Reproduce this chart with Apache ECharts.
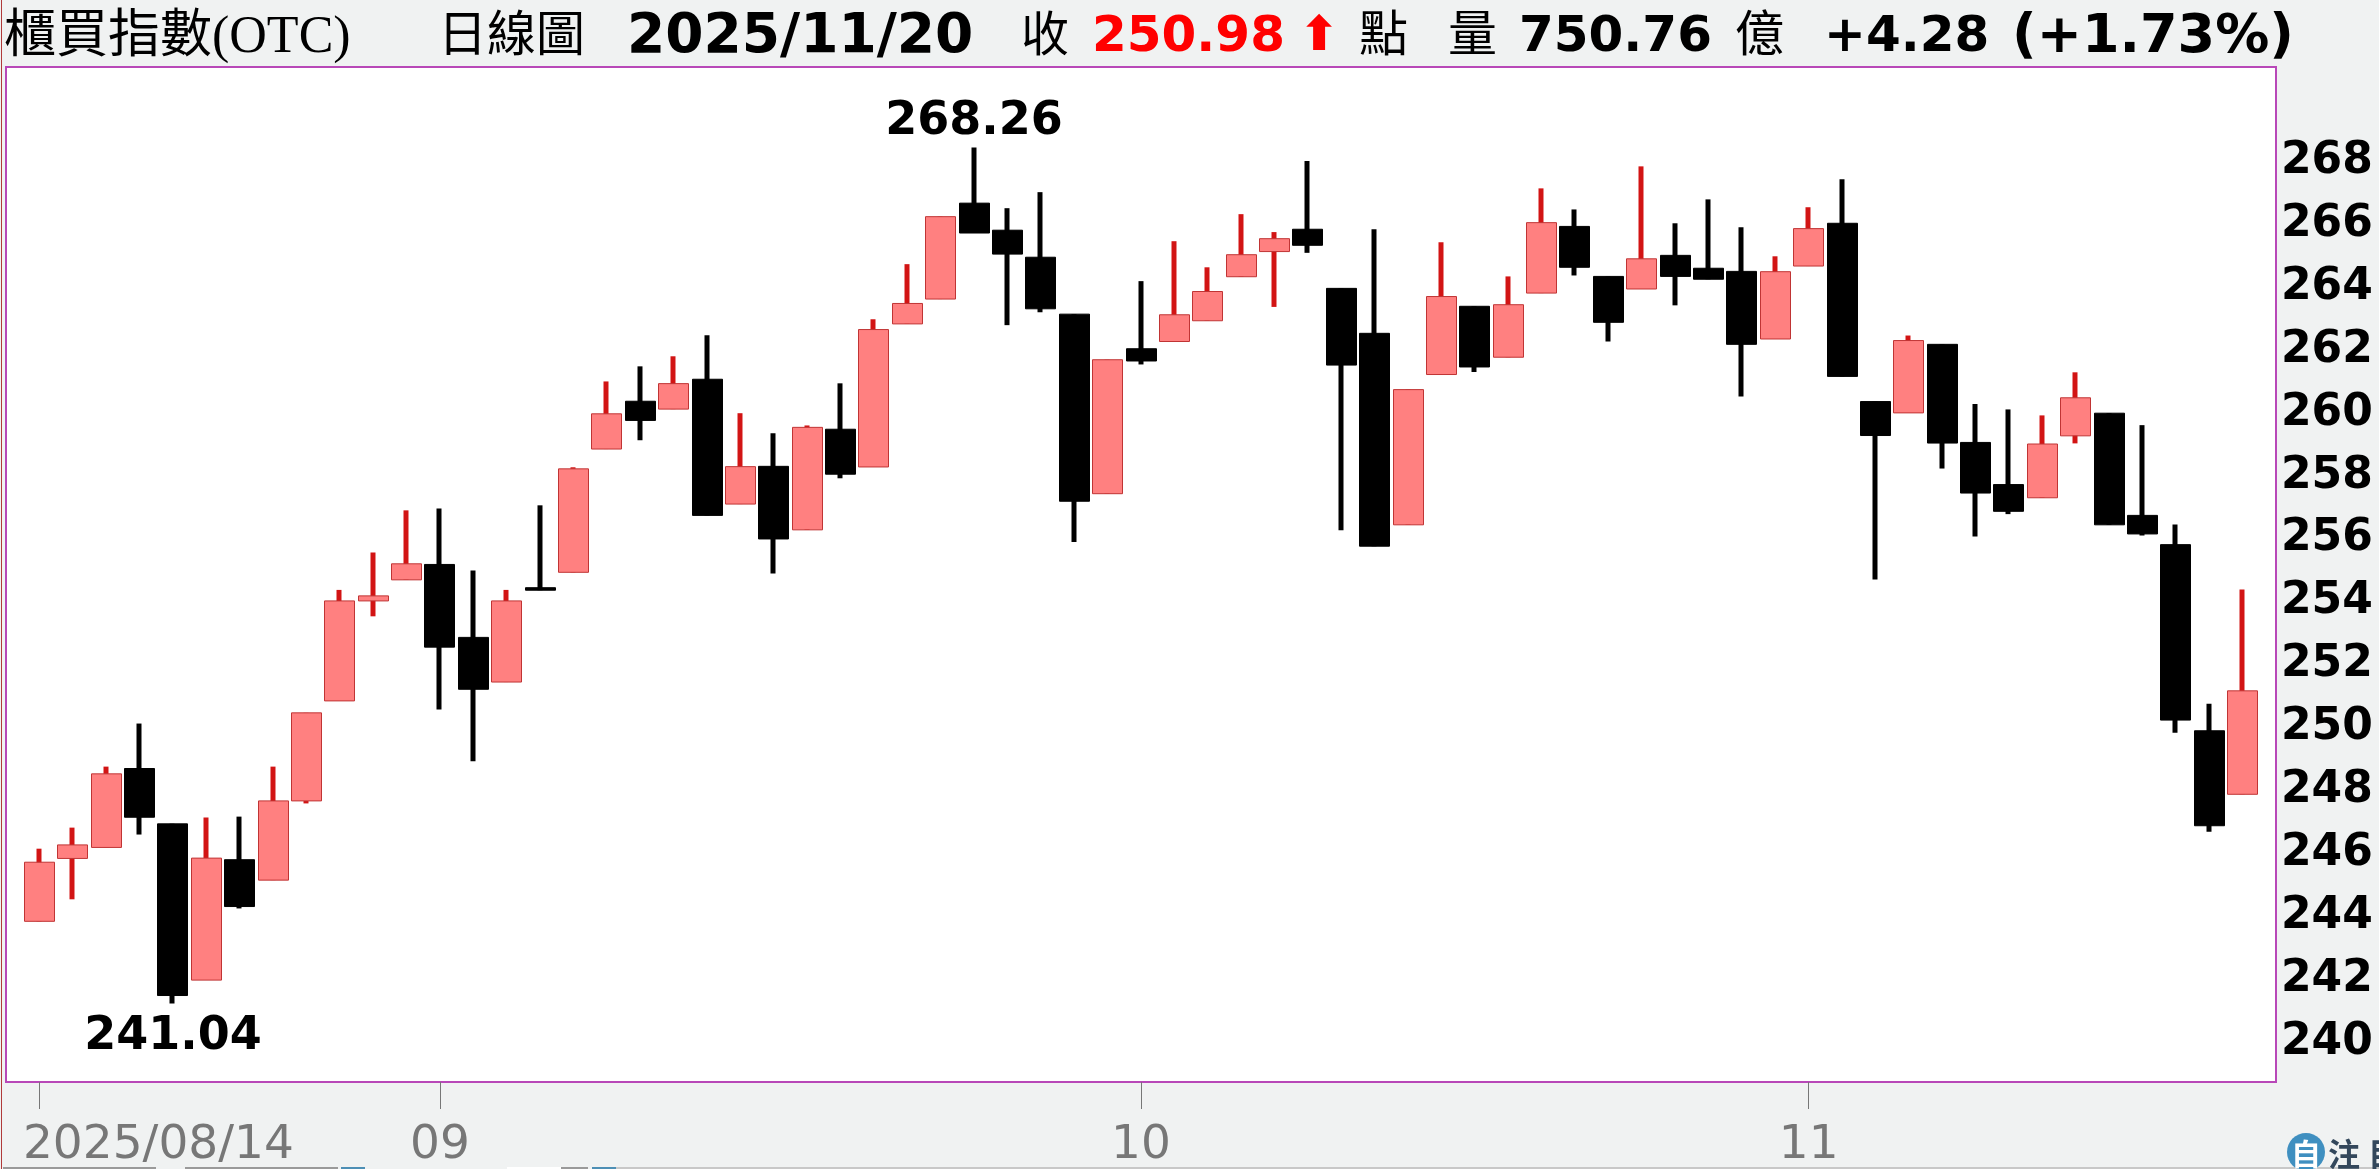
<!DOCTYPE html>
<html>
<head>
<meta charset="utf-8">
<title>櫃買指數(OTC) 日線圖</title>
<script src="https://cdn.jsdelivr.net/npm/echarts@6/dist/echarts.min.js"></script>
<style>
  html, body { margin: 0; padding: 0; background: #f0f2f2; overflow: hidden; }
  #chart { width: 2379px; height: 1169px; }
</style>
</head>
<body>
<div id="chart"></div>
<script>
// trading days, blank slots keep the half-empty margins on both sides
const dates = ['',
  '2025/08/14','2025/08/15','2025/08/18','2025/08/19','2025/08/20','2025/08/21','2025/08/22',
  '2025/08/25','2025/08/26','2025/08/27','2025/08/28','2025/08/29',
  '2025/09/01','2025/09/02','2025/09/03','2025/09/04','2025/09/05',
  '2025/09/08','2025/09/09','2025/09/10','2025/09/11','2025/09/12',
  '2025/09/15','2025/09/16','2025/09/17','2025/09/18','2025/09/19',
  '2025/09/22','2025/09/23','2025/09/24','2025/09/25','2025/09/26','2025/09/30',
  '2025/10/01','2025/10/02','2025/10/03','2025/10/07','2025/10/08','2025/10/09',
  '2025/10/13','2025/10/14','2025/10/15','2025/10/16','2025/10/17',
  '2025/10/20','2025/10/21','2025/10/22','2025/10/23',
  '2025/10/27','2025/10/28','2025/10/29','2025/10/30','2025/10/31',
  '2025/11/03','2025/11/04','2025/11/05','2025/11/06','2025/11/07',
  '2025/11/10','2025/11/11','2025/11/12','2025/11/13','2025/11/14',
  '2025/11/17','2025/11/18','2025/11/19','2025/11/20',
  '']

const opens = [243.65,245.65,246.00,248.51,246.75,241.78,245.61,244.96,247.48,250.66,253.84,254.51,
  255.00,252.68,251.26,254.26,254.75,258.67,260.19,259.94,260.89,256.92,258.12,256.10,259.30,258.10,262.65,263.44,266.49,265.63,264.77,262.96,257.25,
  261.86,262.09,262.75,264.15,264.95,265.66,263.78,262.35,256.26,261.04,263.21,261.59,263.63,265.75,264.16,263.76,264.83,264.42,264.32,262.17,264.49,265.85,
  260.18,259.82,262.00,258.88,257.54,257.12,259.09,259.81,256.56,255.63,249.71,247.69]
const closes = [245.53,246.08,248.34,246.96,241.29,245.66,244.12,247.48,250.28,253.84,254.00,255.02,
  252.37,251.03,253.84,254.18,258.04,259.79,259.58,260.75,256.56,258.11,255.81,259.36,257.87,262.47,263.30,266.06,265.54,264.87,263.13,257.01,261.51,
  261.47,262.94,263.68,264.85,265.36,265.15,261.34,255.58,260.56,263.52,261.28,263.26,265.87,264.45,262.70,264.72,264.16,264.07,262.00,264.31,265.68,260.98,
  259.10,262.12,258.86,257.27,256.69,258.83,260.30,256.26,255.97,250.05,246.69,250.98]
const highs = [245.96,246.63,248.57,249.94,246.75,246.95,246.98,248.57,250.28,254.19,255.38,256.72,
  256.78,254.81,254.19,256.88,258.09,260.82,261.30,261.62,262.29,259.81,259.17,259.42,260.76,262.80,264.55,266.06,268.26,266.33,266.84,262.96,261.51,
  264.01,265.28,264.45,266.14,265.57,267.83,263.78,265.66,260.56,265.25,263.21,264.16,266.96,266.29,264.16,267.66,265.85,266.61,265.72,264.80,266.36,267.25,
  260.18,262.28,262.00,260.10,259.93,259.74,261.11,259.81,259.43,256.27,250.57,254.20]
const lows = [243.65,244.35,246.00,246.41,241.04,241.78,244.06,244.96,247.40,250.66,253.35,254.51,
  250.39,248.74,251.26,254.18,254.75,258.67,258.95,259.94,256.56,256.92,254.71,256.10,257.74,258.10,262.65,263.44,265.54,262.61,263.02,255.71,257.25,
  261.36,262.09,262.75,264.15,263.19,264.91,256.09,255.58,256.26,261.04,261.12,261.59,263.63,264.19,262.09,263.76,263.24,264.07,260.34,262.17,264.49,260.98,
  254.52,259.82,258.05,255.89,256.60,257.12,258.85,256.26,255.92,249.65,246.50,247.69]

const priceTicks = [240,242,244,246,248,250,252,254,256,258,260,262,264,266,268]
const tickDates = ['2025/08/14','2025/09/01','2025/10/01','2025/11/03']
const tickLabels = ['2025/08/14','09','10','11']

const SANS = '"DejaVu Sans", sans-serif'
const CJK = '"Liberation Serif", "Noto Sans CJK TC", serif'

const headerText = (text, x, font, size, color, weight) => ({
  type: 'text',
  x,
  y: 38,
  silent: true,
  style: {
    text,
    fill: color || '#000',
    font: `${weight || 'normal'} ${size}px ${font}`,
    verticalAlign: 'middle',
    align: 'left'
  }
})

// bottom strip: what is left of the page below the chart
const stripBar = (x, width, fill) => ({
  type: 'rect',
  silent: true,
  shape: { x, y: 1167, width, height: 2 },
  style: { fill }
})

const rows = opens.map((o, i) => [dates[i + 1], o, closes[i], lows[i], highs[i]])

// wick is thicker than the body outline, candlestick series cannot do that
const renderCandle = (params, api) => {
  const x = api.coord([api.value(0), 0])[0]
  const open = api.value(1)
  const close = api.value(2)
  const up = close >= open
  const yOpen = api.coord([api.value(0), open])[1]
  const yClose = api.coord([api.value(0), close])[1]
  const yLow = api.coord([api.value(0), api.value(3)])[1]
  const yHigh = api.coord([api.value(0), api.value(4)])[1]
  const top = Math.min(yOpen, yClose)
  const h = Math.max(Math.abs(yOpen - yClose), 1)
  const wickX = Math.floor(x)
  return {
    type: 'group',
    children: [
      {
        type: 'line',
        shape: { x1: wickX, y1: yHigh, x2: wickX, y2: yLow },
        style: { stroke: up ? '#d21414' : '#000', lineWidth: 5 }
      },
      {
        type: 'rect',
        shape: { x: Math.round(x - 15.5) + 0.5, y: top, width: 30, height: h },
        style: {
          fill: up ? '#ff8080' : '#000',
          stroke: up ? '#c03434' : '#000',
          lineWidth: 1
        }
      }
    ]
  }
}

const option = {
  animation: false,
  backgroundColor: '#f0f2f2',
  textStyle: { fontFamily: SANS },
  graphic: [
    headerText('櫃買指數(OTC)', 4, CJK, 52),
    headerText('日線圖', 438, CJK, 49),
    headerText('2025/11/20', 627, SANS, 55, '#000', 'bold'),
    headerText('收', 1021, CJK, 48),
    headerText('250.98', 1092, SANS, 50, '#f00', 'bold'),
    headerText('⬆', 1299, SANS, 48, '#f00', 'bold'),
    headerText('點', 1359, CJK, 49),
    headerText('量', 1448, CJK, 49),
    headerText('750.76', 1519, SANS, 50, '#000', 'bold'),
    headerText('億', 1735, CJK, 49),
    headerText('+4.28', 1824, SANS, 50, '#000', 'bold'),
    headerText('(+1.73%)', 2012, SANS, 54, '#000', 'bold'),
    // window frame leftovers of the screenshot
    { type: 'rect', shape: { x: 1, y: 0, width: 1, height: 1169 }, style: { fill: '#b03a3a' }, silent: true },
    stripBar(3, 153, '#9a9a9a'),
    stripBar(185, 153, '#9a9a9a'),
    stripBar(341, 24, '#4d8fb5'),
    stripBar(507, 54, '#fff'),
    stripBar(561, 27, '#9a9a9a'),
    stripBar(592, 24, '#4d8fb5'),
    stripBar(616, 1763, '#c8c8c8'),
    { type: 'circle', shape: { cx: 2306, cy: 1152, r: 19 }, style: { fill: '#3f8fc0' }, silent: true },
    { type: 'text', x: 2306, y: 1154, silent: true, style: { text: '自', fill: '#fff', font: 'bold 30px "Noto Sans CJK TC"', align: 'center', verticalAlign: 'middle' } },
    { type: 'text', x: 2328, y: 1154, silent: true, style: { text: '注', fill: '#33475b', font: 'bold 32px "Noto Sans CJK TC"', align: 'left', verticalAlign: 'middle' } },
    { type: 'text', x: 2368, y: 1154, silent: true, style: { text: '目', fill: '#33475b', font: 'bold 32px "Noto Sans CJK TC"', align: 'left', verticalAlign: 'middle' } }
  ],
  grid: {
    left: 6,
    right: 103,
    top: 67,
    bottom: 87,
    show: true,
    backgroundColor: '#fff',
    borderColor: '#b848b8',
    borderWidth: 2
  },
  xAxis: {
    type: 'category',
    data: dates,
    boundaryGap: false,
    axisLine: { show: false },
    axisTick: {
      show: true,
      length: 27,
      interval: (i, v) => tickDates.includes(v),
      lineStyle: { color: '#777', width: 1 }
    },
    axisLabel: {
      interval: (i, v) => tickDates.includes(v),
      margin: 40,
      fontSize: 47,
      color: '#777',
      fontFamily: SANS,
      // first label starts at the tick instead of centering on it
      formatter: v => {
        const label = tickLabels[tickDates.indexOf(v)]
        return v === tickDates[0] ? `{first|${label}}` : label
      },
      rich: {
        first: { fontSize: 47, color: '#777', fontFamily: SANS, padding: [0, 0, 0, 238] }
      }
    },
    splitLine: { show: false }
  },
  yAxis: {
    type: 'value',
    position: 'right',
    min: 238.54,
    max: 270.82,
    axisLine: { show: false },
    axisTick: { show: false, customValues: priceTicks },
    splitLine: { show: false },
    axisLabel: {
      customValues: priceTicks,
      margin: 5,
      // labels sit a little under their tick in the original
      formatter: v => `{p|${v}}`,
      rich: {
        p: { fontSize: 44, fontWeight: 'bold', color: '#000', fontFamily: SANS, padding: [12, 0, 0, 0] }
      }
    }
  },
  series: [
    {
      type: 'custom',
      renderItem: renderCandle,
      encode: { x: 0, y: [1, 2, 3, 4] },
      data: rows,
      clip: false,
      markPoint: {
        symbol: 'circle',
        symbolSize: 0,
        silent: true,
        label: { fontSize: 46, fontWeight: 'bold', color: '#000', fontFamily: SANS },
        data: [
          {
            coord: [dates[29], Math.max(...highs)],
            value: Math.max(...highs).toFixed(2),
            label: { position: 'top', distance: 2 }
          },
          {
            coord: [dates[5], Math.min(...lows)],
            value: Math.min(...lows).toFixed(2),
            label: { position: 'bottom', distance: 11 }
          }
        ]
      }
    }
  ]
}

const myChart = echarts.init(document.getElementById('chart'))
myChart.setOption(option)
</script>
</body>
</html>
